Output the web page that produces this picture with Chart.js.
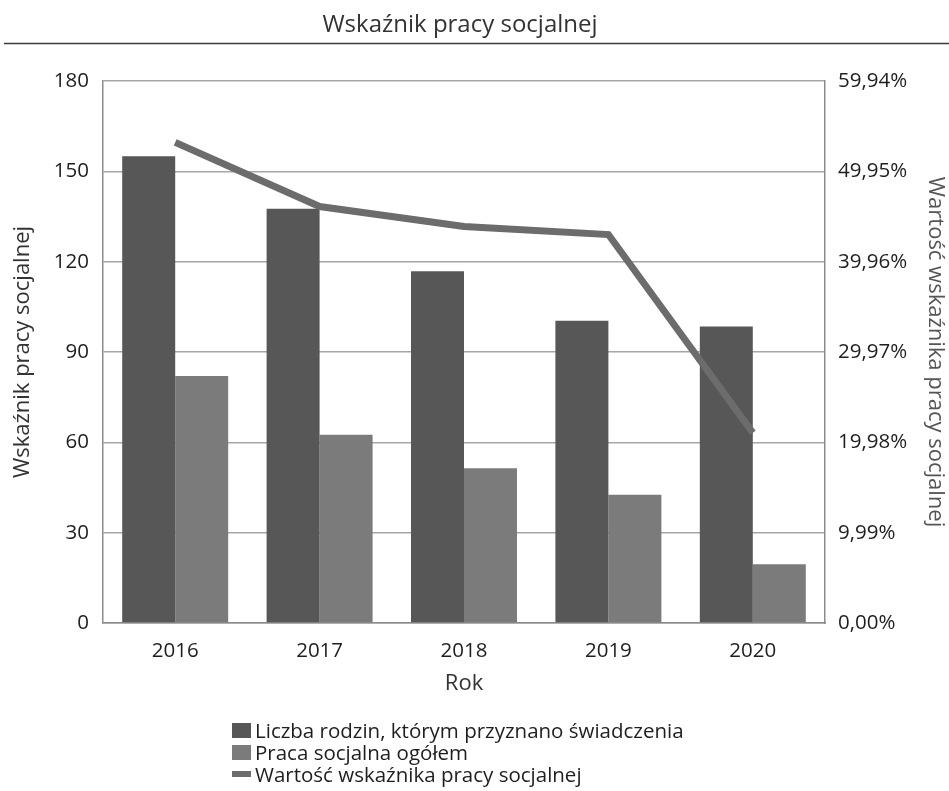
<!DOCTYPE html>
<html lang="pl">
<head>
<meta charset="utf-8">
<script src="https://cdn.jsdelivr.net/npm/chart.js@4/dist/chart.umd.min.js"></script>
<style>
  html, body { margin: 0; padding: 0; background: #ffffff; }
  #wrap { position: relative; width: 949px; height: 791px; }
  #legend { position: absolute; left: 232px; top: 719px; font-family: 'Open Sans', sans-serif; font-size: 20.5px; color: #1e1e1e; line-height: 22px; }
  #legend .item { display: flex; align-items: center; white-space: nowrap; }
  #legend .sw { display: inline-block; width: 19px; margin-right: 4px; }
</style>
</head>
<body>
<div id="wrap">
  <canvas id="c" width="949" height="791"></canvas>
  <div id="legend"></div>
</div>
<script>
const chartTitle = 'Wskaźnik pracy socjalnej';
const years = ['2016', '2017', '2018', '2019', '2020'];
const seriesNames = [
  'Liczba rodzin, którym przyznano świadczenia',
  'Praca socjalna ogółem',
  'Wartość wskaźnika pracy socjalnej'
];
const families = [155, 137.6, 116.8, 100.4, 98.5];
const socialWork = [82, 62.5, 51.4, 42.6, 19.5];
const indicatorPct = [53.15, 46.06, 43.85, 42.96, 21.04];
const leftTicks = [0, 30, 60, 90, 120, 150, 180];
const rightTicks = [0, 9.99, 19.98, 29.97, 39.96, 49.95, 59.94];
const leftAxisTitle = 'Wskaźnik pracy socjalnej';
const rightAxisTitle = 'Wartość wskaźnika pracy socjalnej';
const xAxisTitle = 'Rok';

const colors = ['#575757', '#7b7b7b', '#6c6c6c'];

Chart.defaults.font.family = "'Open Sans', sans-serif";
Chart.defaults.color = '#1e1e1e';

const rulePlugin = {
  id: 'titleRule',
  afterDraw(chart) {
    const ctx = chart.ctx;
    ctx.save();
    ctx.strokeStyle = '#3a3a3a';
    ctx.lineWidth = 1.5;
    ctx.beginPath();
    ctx.moveTo(4, 43.5);
    ctx.lineTo(949, 43.5);
    ctx.stroke();
    ctx.restore();
  }
};

const chart = new Chart(document.getElementById('c'), {
  data: {
    labels: years,
    datasets: [
      {
        type: 'bar', label: seriesNames[0], data: families,
        backgroundColor: colors[0], yAxisID: 'y', order: 1,
        categoryPercentage: 0.734, barPercentage: 1.0
      },
      {
        type: 'bar', label: seriesNames[1], data: socialWork,
        backgroundColor: colors[1], yAxisID: 'y', order: 2,
        categoryPercentage: 0.734, barPercentage: 1.0
      },
      {
        type: 'line', label: seriesNames[2], data: indicatorPct,
        borderColor: colors[2], backgroundColor: colors[2], borderWidth: 7,
        pointRadius: 0, pointHoverRadius: 0, tension: 0, fill: false,
        yAxisID: 'y1', order: 0, borderJoinStyle: 'miter'
      }
    ]
  },
  options: {
    responsive: false,
    animation: false,
    layout: { padding: { left: 0, right: 29, top: 0, bottom: 88 } },
    plugins: {
      legend: { display: false },
      tooltip: { enabled: false },
      title: {
        display: true, text: chartTitle, color: '#333',
        font: { size: 24, weight: 'normal' },
        padding: { top: 10.6, bottom: 41.6 }
      }
    },
    scales: {
      x: {
        grid: { display: false },
        border: { display: true, color: '#8c8c8c', width: 1.5 },
        ticks: { font: { size: 20.5 }, color: '#1e1e1e', padding: 8 },
        title: { display: true, text: xAxisTitle, color: '#333', font: { size: 22 }, padding: { top: 0, bottom: 5.8 } },
        afterFit(s) { s.height = 80; }
      },
      y: {
        position: 'left', min: 0, max: 180,
        afterBuildTicks(s) { s.ticks = leftTicks.map(v => ({ value: v })); },
        grid: { color: '#a6a6a6', lineWidth: 1.5, drawTicks: false },
        border: { display: true, color: '#8c8c8c', width: 1.5 },
        ticks: { font: { size: 20.5 }, color: '#1e1e1e', padding: 14 },
        title: { display: true, text: leftAxisTitle, color: '#333', font: { size: 22 }, padding: { top: 9.8, bottom: 0 } },
        afterFit(s) { s.width = 103; }
      },
      y1: {
        position: 'right', min: 0, max: 59.94,
        afterBuildTicks(s) { s.ticks = rightTicks.map(v => ({ value: v })); },
        grid: { display: false, drawTicks: false },
        border: { display: true, color: '#8c8c8c', width: 1.5 },
        ticks: {
          font: { size: 20.5 }, color: '#1e1e1e', padding: 13,
          callback: v => v.toFixed(2).replace('.', ',') + '%'
        },
        title: { display: true, text: rightAxisTitle, color: '#555', font: { size: 22 }, padding: { top: -28.2, bottom: 0 } },
        afterFit(s) { s.width = 95; }
      }
    }
  },
  plugins: [rulePlugin]
});

// HTML legend built from the chart's datasets
const legendEl = document.getElementById('legend');
chart.data.datasets.forEach(ds => {
  const item = document.createElement('div');
  item.className = 'item';
  const sw = document.createElement('span');
  sw.className = 'sw';
  sw.style.background = ds.type === 'line' ? ds.borderColor : ds.backgroundColor;
  sw.style.height = ds.type === 'line' ? '6px' : '15px';
  const tx = document.createElement('span');
  tx.textContent = ds.label;
  item.appendChild(sw);
  item.appendChild(tx);
  legendEl.appendChild(item);
});
</script>
</body>
</html>
